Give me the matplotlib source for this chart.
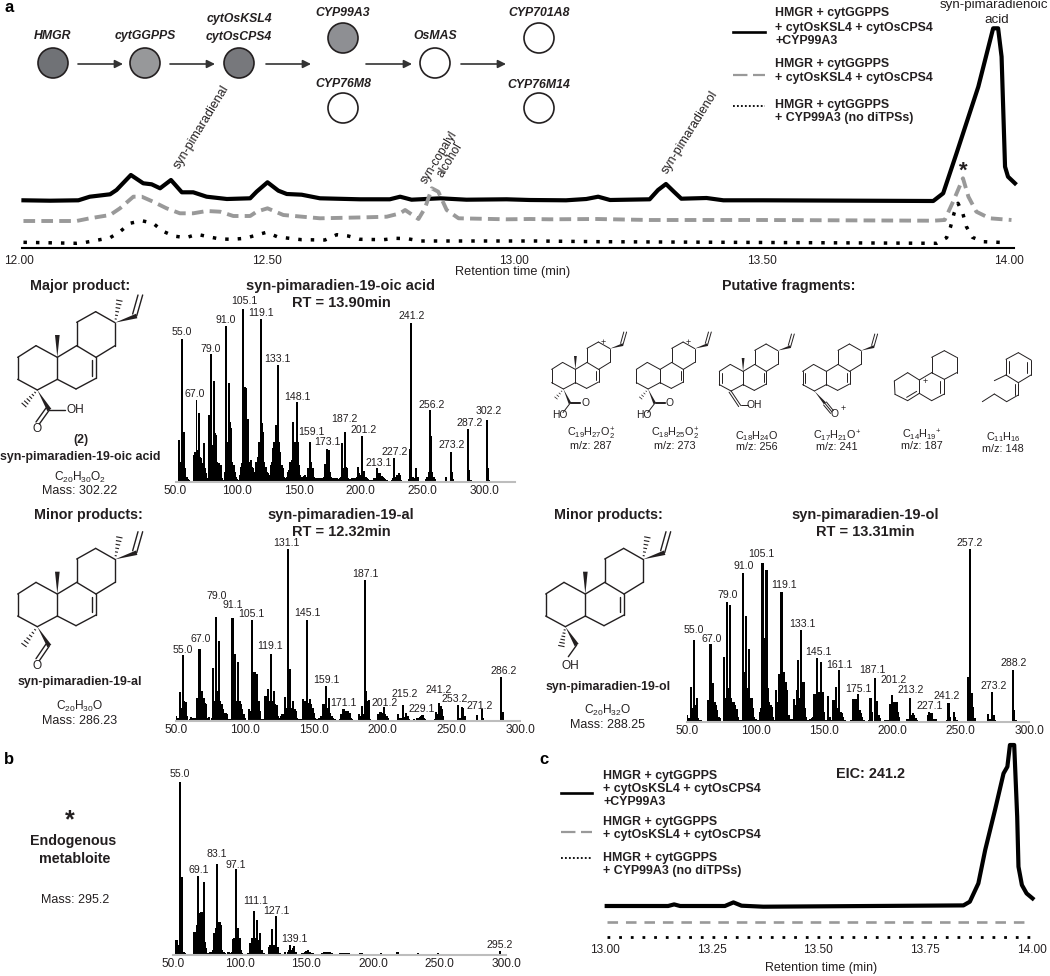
import matplotlib
matplotlib.use("Agg")
import matplotlib.pyplot as plt
from matplotlib.patches import Circle, Polygon

plt.rcParams['font.family'] = ['Liberation Sans', 'DejaVu Sans']
plt.rcParams['mathtext.fontset'] = 'custom'
plt.rcParams['mathtext.rm'] = 'Liberation Sans'
plt.rcParams['mathtext.default'] = 'regular'

W, H = 1050, 976
DARK = '#231f20'
GRAY = '#999999'
BASE = '#bdbdbd'

# ---- chromatogram a
a_solid_t = [12.009, 12.063, 12.120, 12.143, 12.184, 12.197, 12.226, 12.251, 12.268, 12.285, 12.307, 12.329,
             12.352, 12.379, 12.420, 12.467, 12.480, 12.502, 12.524, 12.541, 12.571, 12.608, 12.689, 12.749,
             12.770, 12.793, 12.851, 12.904, 12.985, 13.032, 13.105, 13.146, 13.170, 13.194, 13.274, 13.291,
             13.307, 13.323, 13.338, 13.389, 13.423, 13.503, 13.847, 13.867, 13.894, 13.938, 13.968, 13.978,
             13.985, 13.992, 13.998, 14.012]
a_solid_y = [47.7, 47.3, 47.7, 51.3, 53.7, 58, 73, 64.7, 63.7, 59.7, 68, 55.7,
             55.7, 51.3, 49, 49.7, 56.3, 65.7, 57.3, 54, 53.3, 49.7, 48.7, 48.7,
             51.3, 48.3, 49.7, 48.3, 48.7, 48, 47.7, 49, 51.3, 48, 48.7, 58,
             64, 56.3, 49.3, 50, 47.7, 47.7, 47, 54.7, 94.7, 161.3, 219.7, 219.7,
             191.3, 81.3, 71.3, 64.7]
a_dash_t = [12.009, 12.116, 12.143, 12.184, 12.204, 12.231, 12.248, 12.271, 12.298, 12.325, 12.352, 12.379,
            12.406, 12.433, 12.467, 12.480, 12.502, 12.534, 12.608, 12.702, 12.743, 12.770, 12.780, 12.807,
            12.820, 12.834, 12.847, 12.864, 12.888, 12.985, 13.032, 13.072, 13.167, 13.274, 13.503, 13.847,
            13.870, 13.887, 13.907, 13.918, 13.934, 13.961, 14.005]
a_dash_y = [27, 27, 29.7, 33, 39.7, 51.3, 51.3, 46.3, 39.7, 34.7, 34.7, 37,
            36.3, 32, 32, 36.3, 39.7, 33, 29.7, 30.7, 31.3, 34.7, 38, 29,
            39.7, 59.7, 56.3, 38, 29.7, 28.7, 29, 28.7, 29, 28, 28, 27.3,
            28, 46.3, 69.7, 51.3, 36.3, 29.7, 28]
a_dot_t = [12.009, 12.116, 12.135, 12.160, 12.184, 12.204, 12.224, 12.248, 12.271, 12.290, 12.312, 12.337,
           12.360, 12.382, 12.406, 12.431, 12.457, 12.478, 12.500, 12.523, 12.571, 12.618, 12.642, 12.665,
           12.689, 12.736, 12.761, 12.785, 12.810, 12.985, 13.045, 13.173, 13.854, 13.874, 13.882, 13.889,
           13.897, 13.907, 13.914, 13.926, 13.948, 13.998]
a_dot_y = [5.7, 4.7, 5.7, 8, 10.3, 16.3, 24.7, 27.3, 24.7, 17, 12, 10.3,
           13.7, 11.3, 9, 8.7, 9.7, 12.7, 15.7, 11, 8.3, 8, 13.3, 12,
           8.7, 8.3, 9.7, 9.3, 7, 7, 7, 6.3, 4.7, 10.3, 21.3, 34.7,
           44.7, 34, 21.3, 10.7, 6.3, 5.3]
a_ticks = [12.0, 12.5, 13.0, 13.5, 14.0]

# ---- chromatogram c
c_solid_t = [13.004, 13.148, 13.162, 13.176, 13.281, 13.301, 13.320, 13.371, 13.840, 13.855, 13.875, 13.891,
             13.914, 13.934, 13.943, 13.949, 13.959, 13.966, 13.969, 13.977, 13.988, 14.002]
c_solid_y = [35.7, 35.7, 37.3, 35.7, 35.7, 39.3, 36, 35, 36.3, 40, 58.3, 91.7,
             131.7, 168.3, 175, 196.7, 196.7, 125, 75, 56.7, 48.3, 43.3]
c_flat_t = [13.004, 14.0]
c_dash_y = [20, 20]
c_dot_y = [5, 5]
c_ticks = [13.0, 13.25, 13.5, 13.75, 14.0]

# ---- mass spectra, (m/z, intensity)
acid_peaks = [(53, 125), (54, 58), (55, 428), (56, 60), (57, 150), (58, 40), (59, 15), (60, 8), (61, 5),
              (65, 80), (66, 90), (67, 245), (68, 95), (69, 207), (70, 75), (71, 70), (72, 55), (73, 117), (74, 40),
              (75, 25), (76, 10), (77, 200), (78, 80), (79, 382), (80, 110), (81, 302), (82, 145), (83, 140),
              (84, 60), (85, 55), (86, 50), (87, 50), (88, 10), (89, 5), (90, 30), (91, 467), (92, 120), (93, 295),
              (94, 180), (95, 160), (96, 60), (97, 50), (98, 30), (99, 15), (100, 8), (101, 5), (102, 20), (103, 45),
              (104, 55), (105, 517), (106, 285), (107, 280), (108, 100), (109, 188), (110, 60), (111, 65), (112, 45),
              (113, 40), (114, 30), (115, 60), (116, 55), (117, 75), (118, 120), (119, 488), (120, 175), (121, 150),
              (122, 60), (123, 45), (124, 30), (125, 25), (126, 20), (127, 50), (128, 60), (129, 100), (130, 120),
              (131, 170), (132, 110), (133, 350), (134, 120), (135, 90), (136, 50), (137, 40), (138, 15), (139, 10),
              (140, 15), (141, 30), (142, 35), (143, 60), (144, 65), (145, 178), (146, 110), (147, 120), (148, 238),
              (149, 120), (150, 50), (151, 20), (152, 15), (153, 15), (154, 18), (155, 20), (156, 15), (157, 40),
              (158, 40), (159, 120), (160, 60), (161, 40), (162, 15), (163, 10), (164, 10), (165, 12), (166, 10),
              (167, 12), (168, 10), (169, 12), (170, 15), (171, 53), (172, 15), (173, 98), (174, 95), (175, 30),
              (176, 15), (177, 12), (178, 10), (179, 10), (180, 8), (181, 10), (182, 8), (183, 10), (184, 15),
              (185, 117), (186, 40), (187, 150), (188, 45), (189, 40), (190, 10), (191, 8), (192, 8), (193, 12),
              (194, 12), (195, 10), (196, 10), (197, 15), (198, 43), (199, 25), (200, 20), (201, 138), (202, 30),
              (203, 32), (204, 15), (205, 10), (206, 8), (207, 5), (208, 5), (209, 5), (210, 5), (211, 10), (212, 12),
              (213, 41), (214, 25), (215, 27), (216, 25), (217, 18), (218, 15), (219, 12), (220, 8), (221, 5),
              (225, 5), (226, 10), (227, 70), (228, 15), (229, 20), (230, 8), (231, 27), (232, 20), (233, 5),
              (239, 8), (240, 98), (241, 477), (242, 15), (243, 10), (245, 41), (246, 15), (253, 8), (254, 15),
              (255, 30), (256, 215), (257, 138), (258, 30), (259, 15), (260, 8), (269, 13), (273, 90), (274, 30),
              (275, 8), (283, 3), (287, 157), (288, 35), (289, 5), (302, 185), (303, 40), (304, 5)]
acid_labels = [('55.0', 55, 441), ('67.0', 65.8, 253), ('79.0', 78.7, 390), ('91.0', 90.9, 475), ('105.1', 105.5, 533),
               ('119.1', 119.5, 498), ('133.1', 132.5, 358), ('148.1', 148.9, 246), ('159.1', 159.7, 141),
               ('173.1', 173.2, 110), ('187.2', 186.7, 178), ('201.2', 202.1, 146), ('213.1', 214.2, 48),
               ('227.2', 227.7, 80), ('241.2', 241.2, 488), ('256.2', 257.4, 220), ('273.2', 273.6, 101),
               ('287.2', 288, 168), ('302.2', 303.6, 203)]

al_peaks = [(50, 15), (51, 8), (52, 5), (53, 86), (54, 40), (55, 197), (56, 60), (57, 58), (58, 15), (59, 3), (60, 5),
            (61, 13), (62, 8), (63, 5), (64, 8), (65, 68), (66, 60), (67, 215), (68, 70), (69, 90), (70, 70), (71, 53),
            (72, 50), (73, 10), (74, 13), (75, 3), (76, 10), (77, 159), (78, 60), (79, 313), (80, 90), (81, 241),
            (82, 60), (83, 50), (84, 35), (85, 25), (86, 25), (87, 22), (88, 5), (89, 5), (90, 5), (91, 310), (92, 80),
            (93, 200), (94, 60), (95, 176), (96, 60), (97, 50), (98, 35), (99, 20), (100, 10), (101, 3), (102, 3),
            (103, 36), (104, 30), (105, 304), (106, 70), (107, 146), (108, 60), (109, 140), (110, 60), (111, 30),
            (112, 5), (113, 5), (114, 5), (115, 75), (116, 50), (117, 95), (118, 60), (119, 202), (120, 60), (121, 91),
            (122, 50), (123, 48), (124, 15), (125, 10), (126, 15), (127, 20), (128, 20), (129, 73), (130, 40),
            (131, 515), (132, 60), (133, 156), (134, 40), (135, 60), (136, 35), (137, 30), (138, 10), (139, 5),
            (140, 5), (141, 5), (142, 65), (143, 30), (144, 60), (145, 304), (146, 55), (147, 65), (148, 50), (149, 40),
            (150, 25), (151, 8), (152, 5), (153, 5), (154, 10), (155, 15), (156, 15), (157, 51), (158, 30), (159, 106),
            (160, 40), (161, 68), (162, 25), (163, 15), (164, 8), (165, 5), (166, 3), (169, 5), (170, 22), (171, 35),
            (172, 35), (173, 30), (174, 30), (175, 30), (176, 25), (177, 10), (178, 5), (183, 20), (184, 15), (185, 46),
            (186, 20), (187, 423), (188, 90), (189, 60), (190, 63), (191, 5), (197, 22), (198, 26), (199, 26),
            (200, 25), (201, 43), (202, 20), (203, 15), (204, 8), (205, 3), (211, 20), (212, 10), (213, 10), (214, 8),
            (215, 48), (216, 12), (217, 23), (218, 15), (219, 5), (223, 5), (225, 8), (226, 10), (227, 12), (228, 15),
            (229, 19), (230, 10), (231, 5), (238, 5), (239, 28), (240, 20), (241, 53), (242, 45), (243, 35), (244, 15),
            (245, 3), (254.5, 48), (255.5, 10), (256.5, 10), (257.5, 43), (258.5, 38), (259.5, 15), (268.5, 18),
            (272, 37), (273, 8), (280, 3), (281, 3), (286, 133), (287, 26)]
al_labels = [('55.0', 54.5, 203), ('67.0', 67.8, 236), ('79.0', 79.5, 366), ('91.1', 91.1, 338), ('105.1', 104.6, 311),
             ('119.1', 118.5, 215), ('131.1', 130.3, 524), ('145.1', 145.3, 314), ('159.1', 159.1, 114),
             ('171.1', 171.5, 44), ('187.1', 187.7, 433), ('201.2', 201.3, 44), ('215.2', 215.8, 71),
             ('229.1', 228.4, 27), ('241.2', 240.7, 84), ('253.2', 252.6, 56), ('271.2', 270.8, 37),
             ('286.2', 287.7, 141)]

ol_peaks = [(50, 20), (51, 10), (52, 8), (53, 105), (54, 40), (55, 245), (56, 50), (57, 70), (58, 10), (59, 5), (60, 5),
            (61, 3), (62, 3), (63, 3), (64, 3), (65, 65), (66, 20), (67, 233), (68, 45), (69, 115), (70, 60), (71, 50),
            (72, 35), (73, 15), (74, 10), (75, 3), (76, 3), (77, 193), (78, 70), (79, 358), (80, 100), (81, 350),
            (82, 70), (83, 60), (84, 60), (85, 50), (86, 37), (87, 15), (88, 5), (89, 5), (90, 5), (91, 445), (92, 150),
            (93, 318), (94, 100), (95, 217), (96, 70), (97, 72), (98, 40), (99, 15), (100, 8), (101, 5), (102, 5),
            (103, 30), (104, 40), (105, 477), (106, 250), (107, 250), (108, 455), (109, 100), (110, 60), (111, 50),
            (112, 45), (113, 15), (114, 5), (115, 95), (116, 60), (117, 142), (118, 60), (119, 390), (120, 70),
            (121, 148), (122, 120), (123, 95), (124, 20), (125, 8), (126, 5), (127, 8), (128, 67), (129, 50), (130, 95),
            (131, 185), (132, 70), (133, 275), (134, 120), (135, 118), (136, 40), (137, 15), (138, 5), (139, 5),
            (140, 8), (141, 10), (142, 15), (143, 83), (144, 60), (145, 192), (146, 90), (147, 60), (148, 180),
            (149, 90), (150, 30), (151, 5), (152, 5), (153, 77), (154, 15), (155, 5), (156, 5), (157, 65), (158, 65),
            (159, 103), (160, 40), (161, 155), (162, 30), (163, 25), (164, 15), (165, 5), (166, 3), (170, 5), (171, 67),
            (172, 67), (173, 67), (174, 45), (175, 83), (176, 35), (177, 25), (178, 15), (179, 5), (180, 3), (183, 5),
            (184, 70), (185, 30), (187, 132), (188, 40), (189, 63), (190, 20), (191, 10), (192, 3), (195, 5), (197, 5),
            (198, 52), (199, 40), (200, 80), (201, 60), (202, 45), (203, 58), (204, 30), (205, 15), (206, 3), (211, 8),
            (212, 8), (213, 72), (214, 20), (215, 25), (216, 20), (217, 12), (218, 5), (224, 3), (226, 20), (227, 28),
            (228, 25), (229, 27), (230, 8), (231, 5), (232, 8), (233, 3), (240, 5), (241, 55), (242, 15), (243, 3),
            (245, 29), (246, 15), (247, 5), (255, 135), (256, 20), (257, 517), (258, 87), (259, 45), (260, 10),
            (270, 23), (271, 8), (273, 89), (274, 20), (275, 5), (288, 155), (289, 35), (290, 5)]
ol_labels = [('55.0', 54.5, 265), ('67.0', 68.2, 239), ('79.0', 79.4, 370), ('91.0', 91.1, 458), ('105.1', 104, 495),
             ('119.1', 120.8, 401), ('133.1', 134.4, 283), ('145.1', 146.1, 201), ('161.1', 161.2, 162),
             ('175.1', 175.1, 90), ('187.1', 185.6, 145), ('201.2', 201.1, 116), ('213.2', 213.6, 86),
             ('227.1', 227.5, 39), ('241.2', 239.7, 69), ('257.2', 256.7, 526), ('273.2', 273.8, 98),
             ('288.2', 289, 167)]

endo_peaks = [(52, 45), (53, 45), (54, 30), (55, 518), (56, 128), (57, 233), (58, 10), (59, 5), (60, 3), (62, 3), (64, 3),
              (66, 70), (67, 70), (68, 90), (69, 237), (70, 125), (71, 130), (72, 130), (73, 220), (74, 40), (75, 20),
              (76, 5), (78, 10), (79, 10), (80, 15), (81, 65), (82, 80), (83, 272), (84, 100), (85, 100), (86, 90),
              (87, 15), (88, 8), (89, 5), (90, 3), (91, 10), (92, 8), (93, 5), (94, 10), (95, 48), (96, 50), (97, 257),
              (98, 80), (99, 80), (100, 50), (101, 15), (102, 5), (103, 3), (106, 5), (107, 5), (108, 35), (109, 50),
              (110, 50), (111, 133), (112, 50), (113, 105), (114, 45), (115, 65), (116, 15), (117, 15), (118, 5),
              (120, 3), (122, 25), (123, 30), (124, 77), (125, 30), (126, 30), (127, 118), (128, 25), (129, 25),
              (130, 5), (132, 3), (134, 8), (135, 3), (136, 8), (137, 15), (138, 30), (139, 15), (140, 20), (141, 27),
              (142, 8), (143, 3), (146, 3), (147, 5), (148, 5), (149, 8), (150, 12), (151, 15), (152, 10), (153, 8),
              (154, 5), (155, 5), (156, 3), (160, 3), (162, 5), (163, 8), (164, 10), (165, 8), (166, 10), (167, 8),
              (168, 8), (169, 6), (170, 3), (173, 3), (175, 5), (176, 6), (177, 7), (178, 7), (179, 7), (180, 7),
              (181, 5), (182, 7), (188, 3), (189, 4), (190, 5), (191, 6), (192, 6), (193, 4), (201, 3), (202, 4),
              (203, 3), (206, 5), (207, 3), (208, 4), (215, 3), (216, 4), (217, 4), (218, 9), (219, 9), (220, 3),
              (233, 3), (234, 5), (235, 3), (248, 3), (249, 5), (250, 3), (264, 3), (265, 3), (295, 13)]
endo_labels = [('55.0', 55, 535), ('69.1', 69.5, 246), ('83.1', 82.8, 293), ('97.1', 97.2, 262), ('111.1', 112, 153),
               ('127.1', 127.8, 123), ('139.1', 141.2, 40), ('295.2', 294.8, 20)]

ms_ticks = [50, 100, 150, 200, 250, 300]
ms_ticklabels = ['50.0', '100.0', '150.0', '200.0', '250.0', '300.0']

fragments = [('C$_{19}$H$_{27}$O$_{2}^{+}$', 'm/z: 287'), ('C$_{18}$H$_{25}$O$_{2}^{+}$', 'm/z: 273'),
             ('C$_{18}$H$_{24}$O', 'm/z: 256'), ('C$_{17}$H$_{21}$O$^{+}$', 'm/z: 241'),
             ('C$_{14}$H$_{19}$$^{+}$', 'm/z: 187'), ('C$_{11}$H$_{16}$', 'm/z: 148')]
legend_names = ['HMGR + cytGGPPS\n+ cytOsKSL4 + cytOsCPS4\n+CYP99A3',
                'HMGR + cytGGPPS\n+ cytOsKSL4 + cytOsCPS4',
                'HMGR + cytGGPPS\n+ CYP99A3 (no diTPSs)']

fig = plt.figure(figsize=(W / 100, H / 100), dpi=100)


def px_axes(left, right, bottom, top):
    ax = fig.add_axes([left / W, 1 - bottom / H, (right - left) / W, (bottom - top) / H])
    ax.patch.set_alpha(0)
    for s in ['top', 'left', 'right', 'bottom']:
        ax.spines[s].set_visible(False)
    ax.set_yticks([])
    ax.tick_params(axis='x', length=0)
    return ax


def spectrum(peaks, labels, left, right, bottom, xmax):
    ax = px_axes(left, right, bottom, bottom - 190)
    mz = [p[0] for p in peaks]
    vals = [p[1] for p in peaks]
    ax.bar(mz, vals, width=1.6, color='black', linewidth=0)
    ax.set_xlim(50, xmax)
    ax.set_ylim(0, 570)
    ax.spines['bottom'].set_visible(True)
    ax.spines['bottom'].set_color(BASE)
    ax.spines['bottom'].set_linewidth(1.5)
    ax.set_xticks(ms_ticks, ms_ticklabels, fontsize=8.6, color=DARK)
    ax.tick_params(axis='x', pad=2.5)
    for text, x, y in labels:
        ax.text(x, y, text, fontsize=7.6, color=DARK, ha='center', va='baseline', clip_on=False)
    return ax


# chromatogram a
ax_a = px_axes(19, 1009, 248, 20)
ax_a.plot(a_solid_t, a_solid_y, color='black', lw=3.0, clip_on=False, solid_joinstyle='round')
ax_a.plot(a_dash_t, a_dash_y, color=GRAY, lw=2.8, ls=(0, (3, 1.6)), clip_on=False, dash_joinstyle='round')
ax_a.plot(a_dot_t, a_dot_y, color='black', lw=2.5, ls=(0, (1, 2.6)), clip_on=False)
ax_a.set_xlim(12, 14)
ax_a.set_ylim(0, 228)
ax_a.spines['bottom'].set_visible(True)
ax_a.spines['bottom'].set_linewidth(1.5)
ax_a.spines['bottom'].set_bounds(12.006, 14.01)
ax_a.set_xticks(a_ticks, ['%.2f' % t for t in a_ticks], fontsize=8.6, color=DARK)
ax_a.tick_params(axis='x', pad=5)

# spectra
spectrum(acid_peaks, acid_labels, 175.5, 514.5, 481.7, 324.5)
spectrum(al_peaks, al_labels, 176.1, 520.3, 721, 300)
spectrum(ol_peaks, ol_labels, 687.2, 1029.2, 721.7, 300)
spectrum(endo_peaks, endo_labels, 173, 506.3, 955, 300)

# chromatogram c
ax_c = px_axes(605, 1031.7, 941.7, 745)
ax_c.plot(c_solid_t, c_solid_y, color='black', lw=3.0, clip_on=False, solid_joinstyle='round')
ax_c.plot(c_flat_t, c_dash_y, color=GRAY, lw=1.9, ls=(0, (4, 3)))
ax_c.plot(c_flat_t, c_dot_y, color='black', lw=2.0, ls=(0, (1, 3.2)))
ax_c.set_xlim(13, 14)
ax_c.set_ylim(0, 196.7)
ax_c.set_xticks(c_ticks, ['%.2f' % t for t in c_ticks], fontsize=8.6, color=DARK)
ax_c.tick_params(axis='x', pad=2)

# overlay in pixels for labels, pathway and structures
ov = fig.add_axes([0, 0, 1, 1])
ov.set_xlim(0, W)
ov.set_ylim(H, 0)
ov.axis('off')
ov.patch.set_alpha(0)


def txt(x, y, s, size=8.6, weight='normal', style='normal', rot=0, ha='center', color=DARK):
    ov.text(x, y, s, fontsize=size, fontweight=weight, fontstyle=style, rotation=rot, ha=ha, va='center',
            color=color, rotation_mode='anchor')


txt(9, 8, 'a', 12, 'bold', color='black')
txt(9, 760, 'b', 12, 'bold', color='black')
txt(544, 760, 'c', 12, 'bold', color='black')

txt(513, 272, 'Retention time (min)', 9.2)
txt(821, 968, 'Retention time (min)', 8.9)

# pathway
circles = [(53, 63, '#707276'), (145, 63, '#97989a'), (239, 63, '#77787c'), (343, 38, '#8e8f93'),
           (343, 108, 'white'), (435, 63, 'white'), (539, 38, 'white'), (539, 108, 'white')]
for cx, cy, col in circles:
    ov.add_patch(Circle((cx, cy), 15, facecolor=col, edgecolor=DARK, lw=1.2))
for x0, x1 in [(78, 123), (170, 215), (266, 311), (366, 412), (461, 506)]:
    ov.annotate('', xy=(x1, 64), xytext=(x0, 64),
                arrowprops=dict(arrowstyle='-|>', color='#333333', lw=1.2, shrinkA=0, shrinkB=0, mutation_scale=12))
path_names = [(53, 36, 'HMGR'), (145, 36, 'cytGGPPS'), (239, 19, 'cytOsKSL4'), (239, 37, 'cytOsCPS4'),
              (343, 13, 'CYP99A3'), (343, 84, 'CYP76M8'), (435, 36, 'OsMAS'), (539, 13, 'CYP701A8'),
              (539, 85, 'CYP76M14')]
for x, y, s in path_names:
    txt(x, y, s, 8.8, 'bold', 'italic')

# peak names
txt(201, 127, 'syn-pimaradienal', 9, rot=58.6)
txt(439, 157, 'syn-copalyl', 8.6, rot=58.6)
txt(450, 160, 'alcohol', 8.6, rot=58.6)
txt(690, 132, 'syn-pimaradienol', 9, rot=58)
txt(994, 5, 'syn-pimaradienoic', 9.6)
txt(997, 20, 'acid', 9.6)
txt(963, 171, '*', 16, 'bold')

# legends
legend_a = [(32, 13, 28, 41), (75, 64, 77.5), (106, 105, 118)]
for (ly, *ys), name, kw in zip(legend_a, legend_names, [dict(color='black', lw=1.9),
                                                         dict(color=GRAY, lw=1.6, ls=(0, (6.5, 2.5))),
                                                         dict(color='black', lw=1.3, ls=(0, (1, 1.2)))]):
    ov.plot([733, 765], [ly, ly], **kw)
    for y, line in zip(ys, name.split('\n')):
        txt(775, y, line, 8.9, 'bold', ha='left')
legend_c = [(793, 776, 789, 802), (832, 822, 835), (858, 858, 871)]
for (ly, *ys), name, kw in zip(legend_c, legend_names, [dict(color='black', lw=1.9),
                                                         dict(color=GRAY, lw=1.6, ls=(0, (6.5, 2.5))),
                                                         dict(color='black', lw=1.3, ls=(0, (1, 1.2)))]):
    ov.plot([561, 592], [ly, ly], **kw)
    for y, line in zip(ys, name.split('\n')):
        txt(603, y, line, 8.9, 'bold', ha='left')
txt(871, 774, 'EIC: 241.2', 10.4, 'bold')

# headings
for x, y, s in [(80, 286, 'Major product:'), (789, 286, 'Putative fragments:'), (88, 515, 'Minor products:'),
                (608, 515, 'Minor products:'), (73, 841, 'Endogenous'), (75, 859, 'metabloite')]:
    txt(x, y, s, 10.3, 'bold')
for x, y, s in [(341, 286, 'syn-pimaradien-19-oic acid'), (341, 303, 'RT = 13.90min'),
                (341, 515, 'syn-pimaradien-19-al'), (341, 532, 'RT = 12.32min'),
                (865, 515, 'syn-pimaradien-19-ol'), (865, 532, 'RT = 13.31min')]:
    txt(x, y, s, 10.5, 'bold')
for x, y, s in [(81, 440, '(2)'), (80, 457, 'syn-pimaradien-19-oic acid'), (80, 682, 'syn-pimaradien-19-al'),
                (608, 687, 'syn-pimaradien-19-ol')]:
    txt(x, y, s, 8.9, 'bold')
txt(70, 820, '*', 18, 'bold')
txt(75, 900, 'Mass: 295.2', 9)
txt(80, 477, 'C$_{20}$H$_{30}$O$_{2}$', 8.6)
txt(80, 491, 'Mass: 302.22', 9)
txt(80, 706, 'C$_{20}$H$_{30}$O', 8.6)
txt(80, 721, 'Mass: 286.23', 9)
txt(608, 710, 'C$_{20}$H$_{32}$O', 8.6)
txt(608, 725, 'Mass: 288.25', 9)

frag_x = [590.7, 675, 756.7, 836.7, 921.7, 1003]
frag_y = [(434, 446), (434, 446), (436, 447), (436, 447), (435, 446), (437, 449)]
for x, (y0, y1), (formula, mass) in zip(frag_x, frag_y, fragments):
    txt(x, y0, formula, 7.8)
    txt(x, y1, mass, 7.8)

# structures, drawn in the coordinates of the big oic acid drawing
ring_bonds = [((53, 232), (108, 197)), ((108, 197), (172, 232)), ((172, 232), (172, 298)), ((172, 298), (112, 330)),
              ((112, 330), (53, 298)), ((53, 298), (53, 232)), ((172, 298), (228, 327)), ((228, 327), (288, 295)),
              ((288, 295), (288, 232)), ((288, 232), (230, 197)), ((230, 197), (172, 232)), ((230, 197), (230, 127)),
              ((230, 127), (287, 95)), ((287, 95), (345, 128)), ((345, 128), (345, 197)), ((345, 197), (288, 232)),
              ((276, 287), (276, 240)), ((410, 108), (428, 45)), ((398, 102), (414, 45))]


def draw_bonds(bonds, ox, oy, s, lw):
    for (x0, y0), (x1, y1) in bonds:
        ov.plot([ox + x0 * s, ox + x1 * s], [oy + y0 * s, oy + y1 * s], color=DARK, lw=lw, solid_capstyle='round')


def wedge(p0, p1, ox, oy, s, w=7):
    dx, dy = p1[0] - p0[0], p1[1] - p0[1]
    n = (dx * dx + dy * dy) ** 0.5
    nx, ny = -dy / n * w * s, dx / n * w * s
    x0, y0 = ox + p0[0] * s, oy + p0[1] * s
    x1, y1 = ox + p1[0] * s, oy + p1[1] * s
    ov.add_patch(Polygon([(x0, y0), (x1 + nx, y1 + ny), (x1 - nx, y1 - ny)], color=DARK, lw=0))


def hashed(p0, p1, ox, oy, s, lw, w=8, n=6):
    dx, dy = p1[0] - p0[0], p1[1] - p0[1]
    d = (dx * dx + dy * dy) ** 0.5
    for i in range(1, n + 1):
        f = i / n
        mx, my = p0[0] + dx * f, p0[1] + dy * f
        hx, hy = -dy / d * w * f, dx / d * w * f
        ov.plot([ox + (mx - hx) * s, ox + (mx + hx) * s], [oy + (my - hy) * s, oy + (my + hy) * s],
                color=DARK, lw=lw)


def core(ox, oy, s, lw, methyl=True, vinyl_hash=True):
    draw_bonds(ring_bonds, ox, oy, s, lw)
    wedge((345, 128), (410, 108), ox, oy, s)
    if methyl:
        wedge((172, 232), (172, 165), ox, oy, s)
    if vinyl_hash:
        hashed((345, 128), (358, 62), ox, oy, s, lw * 0.8)


# big structures
core(0, 280, 1 / 3, 1.0)
hashed((112, 330), (72, 375), 0, 280, 1 / 3, 0.8)
wedge((112, 330), (148, 390), 0, 280, 1 / 3)
draw_bonds([((148, 390), (195, 390)), ((148, 390), (118, 432)), ((138, 384), (108, 426))], 0, 280, 1 / 3, 1.0)
txt(75, 410, 'OH', 8.6)
txt(37, 429, 'O', 8.6)

core(0, 516.7, 1 / 3, 1.0)
hashed((112, 330), (72, 385), 0, 516.7, 1 / 3, 0.8)
wedge((112, 330), (148, 388), 0, 516.7, 1 / 3)
draw_bonds([((148, 388), (118, 432)), ((138, 382), (108, 426))], 0, 516.7, 1 / 3, 1.0)
txt(37, 666, 'O', 8.6)

core(528, 516.7, 1 / 3, 1.0)
hashed((112, 330), (100, 388), 528, 516.7, 1 / 3, 0.8)
wedge((112, 330), (146, 385), 528, 516.7, 1 / 3)
draw_bonds([((146, 385), (121, 420))], 528, 516.7, 1 / 3, 1.0)
txt(570, 666, 'OH', 8.6)

# fragment drawings
s = 0.2
for ox, oy, methyl in [(541, 323, True), (625.7, 323, False)]:
    core(ox, oy, s, 0.7, methyl=methyl, vinyl_hash=False)
    hashed((112, 330), (75, 375), ox, oy, s, 0.5, n=4)
    wedge((112, 330), (145, 402), ox, oy, s)
    draw_bonds([((145, 402), (195, 402)), ((145, 394), (195, 394)), ((145, 402), (110, 448))], ox, oy, s, 0.7)
    ov.text(ox + 220 * s, oy + 400 * s, 'O', fontsize=7.4, ha='center', va='center', color=DARK)
    ov.text(ox + 92 * s, oy + 462 * s, 'HO', fontsize=7.4, ha='center', va='center', color=DARK)
    ov.text(ox + 312 * s, oy + 100 * s, '+', fontsize=6.5, ha='center', va='center', color=DARK)
for ox, oy in [(708.7, 325), (792, 325)]:
    core(ox, oy, s, 0.7, methyl=ox < 750, vinyl_hash=False)
    draw_bonds([((65, 290), (65, 240))], ox, oy, s, 0.7)
ox, oy = 708.7, 325
draw_bonds([((112, 330), (160, 402)), ((102, 336), (150, 408)), ((160, 402), (195, 402))], ox, oy, s, 0.7)
ov.text(ox + 225 * s, oy + 402 * s, 'OH', fontsize=7.4, ha='center', va='center', color=DARK)
ox, oy = 792, 325
wedge((112, 330), (165, 392), ox, oy, s)
draw_bonds([((165, 392), (200, 435)), ((158, 400), (193, 442)), ((172, 385), (207, 428))], ox, oy, s, 0.7)
ov.text(ox + 212 * s, oy + 447 * s, 'O', fontsize=7.4, ha='center', va='center', color=DARK)
ov.text(ox + 255 * s, oy + 415 * s, '+', fontsize=6.5, ha='center', va='center', color=DARK)

# the two smaller skeletons, coordinates from their own crops
frag5 = [((1093, 303), (1133, 278)), ((1133, 278), (1168, 300)), ((1168, 300), (1168, 340)), ((1168, 340), (1133, 362)),
         ((1133, 362), (1095, 343)), ((1095, 343), (1093, 303)), ((1168, 300), (1205, 278)), ((1205, 278), (1243, 298)),
         ((1243, 298), (1243, 342)), ((1231, 304), (1231, 338)), ((1243, 342), (1205, 362)), ((1205, 362), (1168, 340)),
         ((1205, 278), (1205, 232)), ((1205, 232), (1243, 212)), ((1243, 212), (1280, 232)), ((1280, 232), (1280, 278)),
         ((1280, 278), (1243, 298)), ((1130, 352), (1160, 334))]
frag6 = [((1428, 238), (1465, 218)), ((1465, 218), (1503, 240)), ((1503, 240), (1503, 285)), ((1491, 247), (1491, 278)),
         ((1503, 285), (1465, 308)), ((1465, 308), (1428, 285)), ((1428, 285), (1428, 238)), ((1438, 280), (1438, 244)),
         ((1428, 285), (1393, 302)), ((1465, 308), (1465, 345)), ((1455, 312), (1455, 345)), ((1465, 345), (1430, 365)),
         ((1430, 365), (1393, 342)), ((1393, 342), (1357, 365))]
draw_bonds(frag5, 530, 280, 1 / 3, 0.7)
draw_bonds(frag6, 530, 280, 1 / 3, 0.7)
ov.text(530 + 1185 / 3, 280 + 305 / 3, '+', fontsize=6.5, ha='center', va='center', color=DARK)

fig.savefig('out.png', dpi=100)
